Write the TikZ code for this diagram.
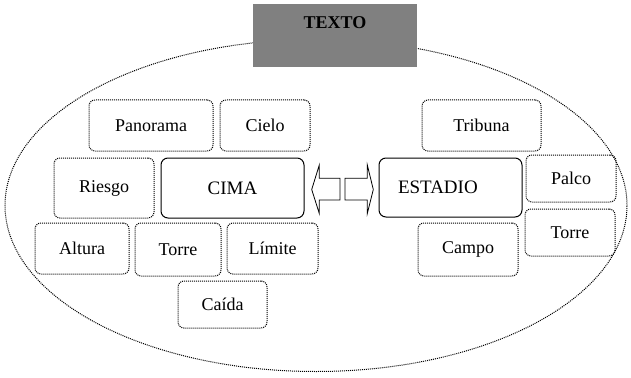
\documentclass[tikz,border=0pt]{standalone}
\usepackage{fontspec}
\setmainfont{Liberation Serif}
\begin{document}
\begin{tikzpicture}[x=1pt,y=-1pt,
  dotline/.style={line width=1pt, dash pattern=on 1pt off 1pt},
  dbox/.style={draw, dotline, rounded corners=6pt, inner sep=0pt, font=\fontsize{18}{20}\selectfont},
  sbox/.style={draw, line width=1pt, rounded corners=7pt, inner sep=0pt, font=\fontsize{19}{21}\selectfont},
  arrowshape/.style={draw, line width=0.8pt, fill=white}]
\useasboundingbox (0,0) rectangle (631,377);
% ellipse
\draw[dotline] (316,205.5) ellipse [x radius=311pt, y radius=166pt];
% title box
\node[fill=black!50, minimum width=164pt, minimum height=63pt, inner sep=0pt] (title) at (335,35.5) {};
\node[font=\bfseries\fontsize{18}{20}\selectfont, anchor=center] (titletext) at (335,23) {TEXTO};
% left cluster
\node[dbox, minimum width=124pt, minimum height=51pt] (panorama) at (151,125.5) {Panorama};
\node[dbox, minimum width=90pt, minimum height=51pt] (cielo) at (265,125.5) {Cielo};
\node[dbox, minimum width=100pt, minimum height=60pt] (riesgo) at (104,188) {Riesgo};
\node[sbox, minimum width=143pt, minimum height=60pt] (cima) at (232.5,188) {CIMA};
\node[dbox, minimum width=94pt, minimum height=51pt] (altura) at (82,248.5) {Altura};
\node[dbox, minimum width=86pt, minimum height=53pt] (torreL) at (178,249.5) {Torre};
\node[dbox, minimum width=91pt, minimum height=51pt] (limite) at (272.5,248.5) {Límite};
\node[dbox, minimum width=89pt, minimum height=47pt] (caida) at (222.5,304.5) {Caída};
% right cluster
\node[dbox, minimum width=119pt, minimum height=51pt] (tribuna) at (481.5,125.5) {Tribuna};
\node[sbox, minimum width=143pt, minimum height=59pt, text width=143pt, align=left] (estadio) at (450.5,187.5) {\hspace*{19pt}ESTADIO};
\node[dbox, minimum width=90pt, minimum height=47pt] (palco) at (571,178.5) {Palco};
\node[dbox, minimum width=90pt, minimum height=47pt] (torreR) at (570,232.5) {Torre};
\node[dbox, minimum width=100pt, minimum height=53pt] (campo) at (468,249.5) {Campo};
% double arrows
\coordinate (la) at (311.7,189.5);
\coordinate (ra) at (373.3,189.5);
\draw[arrowshape] (la) -- (319.3,165) -- (319.3,178.3) -- (340,178.3) -- (340,200) -- (319.3,200) -- (319.3,213.5) -- cycle;
\draw[arrowshape] (ra) -- (367.3,165) -- (367.3,178.3) -- (345,178.3) -- (345,200) -- (367.3,200) -- (367.3,213.5) -- cycle;
\end{tikzpicture}
\end{document}
